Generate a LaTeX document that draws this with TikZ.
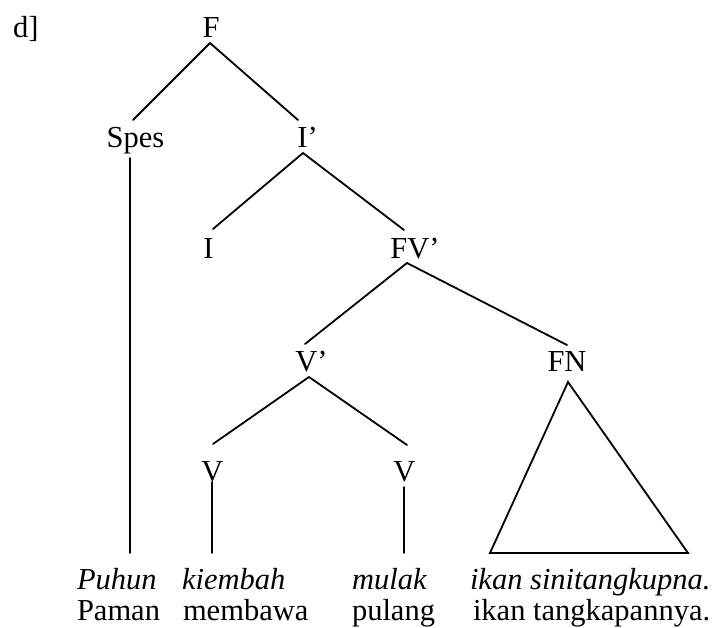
\documentclass[tikz,border=0pt]{standalone}
\usepackage{fontspec}
\setmainfont{Liberation Serif}
\usetikzlibrary{calc}

\tikzset{
  lbl/.style={inner sep=0pt, outer sep=0pt, anchor=base,
              font=\fontsize{30.5}{36}\selectfont},
  leaf/.style={lbl, anchor=base west},
  gloss/.style={leaf, font=\fontsize{30.5}{36}\selectfont\itshape},
  branch/.style={line width=1.8pt, line cap=round, line join=miter}
}

\begin{document}
\begin{tikzpicture}[x=1pt, y=-1pt]
\useasboundingbox (0,0) rectangle (721,628);

% example label
\node[leaf] (tag) at (13,38) {d]};

% category labels
\node[lbl] (F)   at (211,38)    {F};
\node[lbl] (Sp)  at (135.5,148) {Spes};
\node[lbl] (Ib)  at (307.5,148) {I’};
\node[lbl] (I)   at (208.5,259) {I};
\node[lbl] (FVb) at (415,259)   {FV’};
\node[lbl] (Vb)  at (311.5,372) {V’};
\node[lbl] (FN)  at (567,372)   {FN};
\node[lbl] (V1)  at (212.5,482) {V};
\node[lbl] (V2)  at (404.5,482) {V};

% words and their glosses
\node[gloss] (w1) at (77,589)  {Puhun};
\node[gloss] (w2) at (182,589) {kiembah};
\node[gloss] (w3) at (352,589) {mulak};
\node[gloss] (w4) at (470,589) {ikan sinitangkupna.};
\node[leaf]  (g1) at (77,620.5)  {Paman};
\node[leaf]  (g2) at (183,620.5) {membawa};
\node[leaf]  (g3) at (352,620.5) {pulang};
\node[leaf]  (g4) at (473,620.5) {ikan tangkapannya.};

% branches
\draw[branch] ($(F.base)+(-1,5)$) -- ($(Sp.base)+(-2.5,-28)$);
\draw[branch] ($(F.base)+(-1,5)$) -- ($(Ib.base)+(-9.5,-28)$);
\draw[branch] ($(Sp.base)+(-5.5,10)$) -- ($(w1.base west)+(53,-36)$);
\draw[branch] ($(Ib.base)+(-4.5,5)$) -- ($(I.base)+(4.5,-30)$);
\draw[branch] ($(Ib.base)+(-4.5,5)$) -- ($(FVb.base)+(-11,-29)$);
\draw[branch] ($(FVb.base)+(-8,4)$) -- ($(Vb.base)+(-6.5,-28)$);
\draw[branch] ($(FVb.base)+(-8,4)$) -- ($(FN.base)+(0,-27)$);
\draw[branch] ($(Vb.base)+(-2.5,5)$) -- ($(V1.base)+(0.5,-38)$);
\draw[branch] ($(Vb.base)+(-2.5,5)$) -- ($(V2.base)+(2.5,-37)$);
\draw[branch] ($(V1.base)+(-0.5,0)$) -- ($(w2.base west)+(30,-36)$);
\draw[branch] ($(V2.base)+(-0.5,5)$) -- ($(w3.base west)+(52,-36)$);

% roof over the noun phrase
\draw[branch] ($(FN.base)+(1,10)$) -- ($(w4.base west)+(20,-36)$)
  -- ($(w4.base west)+(218,-36)$) -- cycle;
\end{tikzpicture}
\end{document}
